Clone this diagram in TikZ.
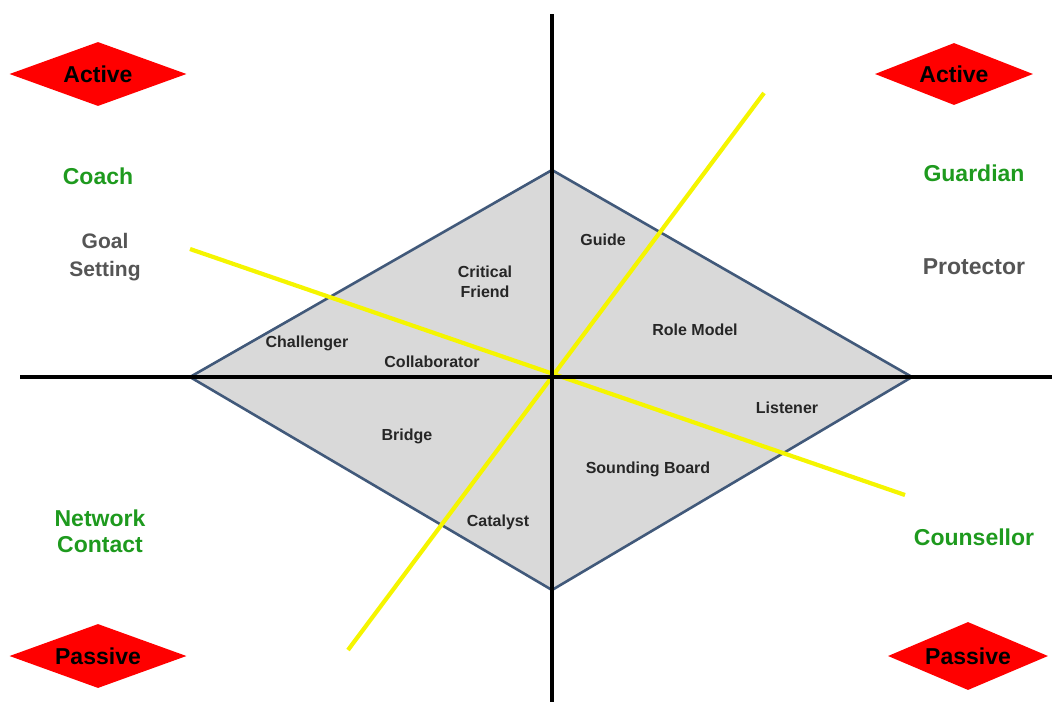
\documentclass[tikz,border=0pt]{standalone}
\usepackage{fontspec}
\setmainfont{Liberation Sans}
\usetikzlibrary{shapes.geometric}
\definecolor{rimblue}{HTML}{41597A}
\definecolor{fillgrey}{HTML}{D9D9D9}
\definecolor{tagred}{HTML}{FF0000}
\definecolor{rolegreen}{HTML}{1E9A1E}
\definecolor{subgrey}{HTML}{555555}
\definecolor{yel}{HTML}{F5F500}
\begin{document}
\begin{tikzpicture}[x=1pt,y=-1pt,
  tag/.style={diamond,fill=tagred,inner sep=0pt,minimum width=177pt,minimum height=64pt,aspect=2.8,font=\fontsize{23}{26}\selectfont\bfseries,text=black},
  role/.style={font=\fontsize{23}{26}\selectfont\bfseries,text=rolegreen,align=center},
  sub/.style={font=\fontsize{23}{28}\selectfont\bfseries,text=subgrey,align=center},
  lab/.style={font=\fontsize{16}{20}\selectfont\bfseries,text=black!85,align=center},
  axis/.style={line width=3.2pt,black},
  ray/.style={line width=4.2pt,yel}]
\useasboundingbox (0,0) rectangle (1054,702);
% diamond corners
\coordinate (T) at (552,170);
\coordinate (L) at (190,377);
\coordinate (R) at (912,377);
\coordinate (B) at (552,590);
\coordinate (O) at (552,377);
\filldraw[fill=fillgrey,draw=rimblue,line width=2.6pt,line join=round] (T) -- (R) -- (B) -- (L) -- cycle;
% yellow lines
\coordinate (y1a) at (190,249);
\coordinate (y1b) at (905,495);
\coordinate (y2a) at (348,650);
\coordinate (y2b) at (764,93);
\draw[ray] (y1a) -- (y1b);
\draw[ray] (y2a) -- (y2b);
% axes
\coordinate (vt) at (552,14);
\coordinate (vb) at (552,702);
\coordinate (hl) at (20,377);
\coordinate (hr) at (1052,377);
\draw[axis] (vt) -- (vb);
\draw[axis] (hl) -- (hr);
% tags
\node[tag] (a1) at (98,74) {Active};
\node[tag,minimum width=158pt,minimum height=62pt] (a2) at (954,74) {Active};
\node[tag] (p1) at (98,656) {Passive};
\node[tag,minimum width=160pt,minimum height=68pt] (p2) at (968,656) {Passive};
% outer labels
\node[role] (coach) at (98,176) {Coach};
\node[sub,font=\fontsize{21}{28}\selectfont\bfseries] (goal) at (105,257) {Goal\\Setting};
\node[role] (guard) at (974,173) {Guardian};
\node[sub] (prot) at (974,267) {Protector};
\node[role] (net) at (100,531) {Network\\Contact};
\node[role] (coun) at (974,537) {Counsellor};
% inner labels
\node[lab] (cf) at (485,282) {Critical\\Friend};
\node[lab] (chal) at (307,343) {Challenger};
\node[lab] (coll) at (432,362) {Collaborator};
\node[lab] (guide) at (603,240) {Guide};
\node[lab] (rm) at (695,330) {Role Model};
\node[lab] (list) at (787,408) {Listener};
\node[lab] (bridge) at (407,436) {Bridge};
\node[lab] (cat) at (498,522) {Catalyst};
\node[lab] (sb) at (648,469) {Sounding Board};
\end{tikzpicture}
\end{document}
